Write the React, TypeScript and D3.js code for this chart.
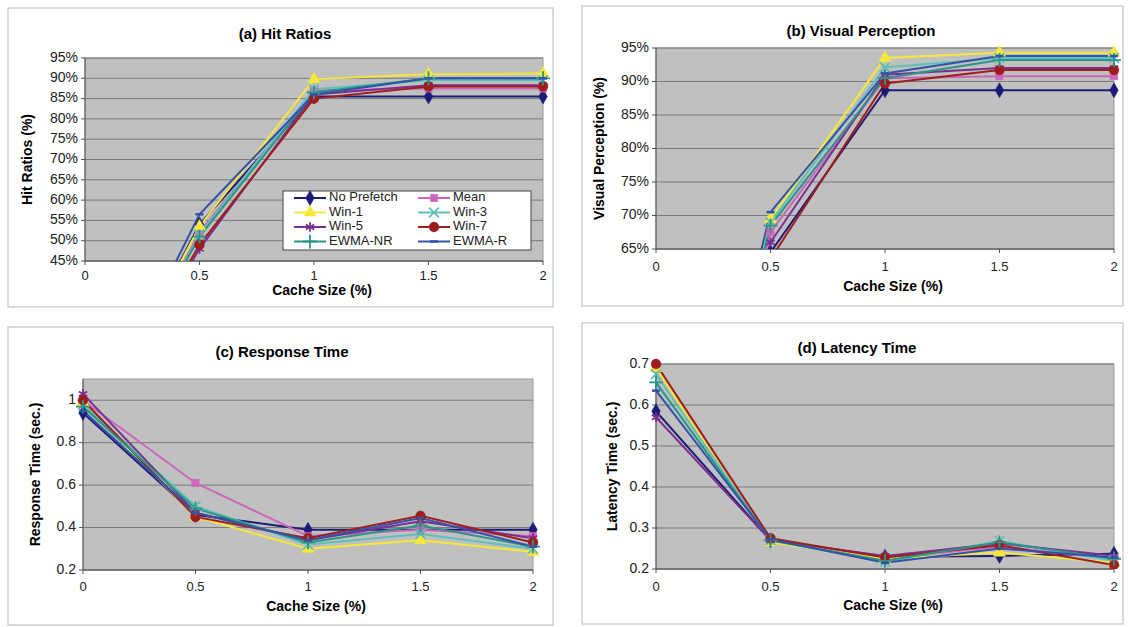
import * as d3 from 'd3';

const CACHE_SIZES = [0, 0.5, 1, 1.5, 2];
const SERIES = ['No Prefetch', 'Mean', 'Win-1', 'Win-3', 'Win-5', 'Win-7', 'EWMA-NR', 'EWMA-R'];
const COLORS = ['#1c1c78', '#cc66bb', '#f5e83a', '#5fc0b8', '#7b2f8e', '#9e1e1e', '#2b9588', '#3352a8'];
const MARKERS = ['diamond', 'square', 'triangle', 'times', 'asterisk', 'circle', 'plus', 'dash'];

// (a) hit ratios, % — one row per series, in SERIES order
const HIT_RATIOS = [
  [0, 54, 85.5, 85.5, 85.5],
  [0, 52, 87, 87.5, 87.5],
  [0, 53.5, 89.8, 91, 91.2],
  [0, 51.5, 87.3, 89.5, 89.5],
  [0, 48, 86, 88.3, 88.3],
  [0, 49, 85, 88, 88],
  [0, 51, 86.5, 90, 90],
  [0, 56.5, 86, 90, 90],
];
// (b) visual perception, %
const VISUAL_PERCEPTION = [
  [0, 64.5, 88.7, 88.7, 88.7],
  [0, 67.5, 90.5, 90.8, 90.8],
  [0, 69.5, 93.5, 94.3, 94.3],
  [0, 69, 92.1, 93.5, 93.5],
  [0, 66, 91, 92, 92],
  [0, 63.5, 89.7, 91.7, 91.7],
  [0, 68.5, 90.5, 93.2, 93.2],
  [0, 70.5, 91.2, 93.8, 93.8],
];
// (c) response time, sec.
const RESPONSE_TIME = [
  [0.94, 0.46, 0.39, 0.39, 0.39],
  [1.0, 0.61, 0.36, 0.39, 0.36],
  [0.99, 0.45, 0.3, 0.34, 0.285],
  [0.98, 0.5, 0.32, 0.37, 0.3],
  [1.03, 0.47, 0.34, 0.43, 0.35],
  [1.0, 0.45, 0.35, 0.455, 0.33],
  [0.97, 0.49, 0.33, 0.41, 0.31],
  [0.95, 0.47, 0.34, 0.445, 0.31],
];
// (d) latency time, sec.
const LATENCY_TIME = [
  [0.585, 0.27, 0.23, 0.232, 0.237],
  [0.69, 0.27, 0.225, 0.255, 0.225],
  [0.69, 0.265, 0.225, 0.24, 0.215],
  [0.675, 0.27, 0.218, 0.268, 0.22],
  [0.57, 0.27, 0.232, 0.262, 0.232],
  [0.7, 0.275, 0.228, 0.258, 0.21],
  [0.655, 0.27, 0.22, 0.265, 0.225],
  [0.635, 0.272, 0.215, 0.25, 0.228],
];

const HIT_TICKS = [45, 50, 55, 60, 65, 70, 75, 80, 85, 90, 95];
const VP_TICKS = [65, 70, 75, 80, 85, 90, 95];
const RT_TICKS = [0.2, 0.4, 0.6, 0.8, 1];
const LT_TICKS = [0.2, 0.3, 0.4, 0.5, 0.6, 0.7];

const FONT = '"Liberation Sans", Arial, sans-serif';

function Marker({ type, cx, cy, color }: { type: string; cx: number; cy: number; color: string }) {
  const t = `translate(${cx},${cy})`;
  if (type === 'dash') return <line x1={cx - 4} x2={cx + 4} y1={cy} y2={cy} stroke={color} strokeWidth={2.5} />;
  const fills: Record<string, any> = { diamond: d3.symbolDiamond, square: d3.symbolSquare, triangle: d3.symbolTriangle, circle: d3.symbolCircle };
  const strokes: Record<string, any> = { times: d3.symbolTimes, asterisk: d3.symbolAsterisk, plus: d3.symbolPlus };
  if (fills[type]) {
    const size = type === 'circle' ? 75 : type === 'square' ? 55 : 65;
    return <path transform={t} d={d3.symbol(fills[type], size)() || ''} fill={color} stroke={color} strokeWidth={0.5} />;
  }
  return <path transform={t} d={d3.symbol(strokes[type], 65)() || ''} fill="none" stroke={color} strokeWidth={1.8} />;
}

function Panel({ id, box, plot, yDomain, yTicks, yFormat, title, titleX, yLabel, yLabelX, data, legend, yTickSize }: any) {
  const x = d3.scaleLinear().domain([0, 2]).range([plot.x0, plot.x1]);
  const y = d3.scaleLinear().domain(yDomain).range([plot.y1, plot.y0]);
  const line = d3.line<number>().x((_, i) => x(CACHE_SIZES[i])).y(d => y(d));
  const pad = 5;
  return (
    <g fontFamily={FONT}>
      <rect x={box.x0} y={box.y0} width={box.x1 - box.x0} height={box.y1 - box.y0} fill="#fff" stroke="#cfcfcf" strokeWidth={1.5} />
      <defs>
        <clipPath id={`${id}-lines`}><rect x={plot.x0} y={plot.y0} width={plot.x1 - plot.x0} height={plot.y1 - plot.y0} /></clipPath>
        <clipPath id={`${id}-marks`}><rect x={plot.x0 - pad - 4} y={plot.y0 - pad - 4} width={plot.x1 - plot.x0 + 2 * pad + 8} height={plot.y1 - plot.y0 + pad + 4} /></clipPath>
      </defs>
      <text x={titleX} y={plot.titleY} textAnchor="middle" fontSize={15} fontWeight="bold" dominantBaseline="middle">{title}</text>
      <rect x={plot.x0} y={plot.y0} width={plot.x1 - plot.x0} height={plot.y1 - plot.y0} fill="#c0c0c0" stroke="#9a9a9a" />
      {yTicks.map((v: number) => (
        <g key={v}>
          <line x1={plot.x0} x2={plot.x1} y1={y(v)} y2={y(v)} stroke="#7a7a7a" strokeWidth={1} />
          <line x1={plot.x0 - 4} x2={plot.x0} y1={y(v)} y2={y(v)} stroke="#555" />
          <text x={plot.x0 - 7} y={y(v)} textAnchor="end" dominantBaseline="middle" fontSize={yTickSize} fill="#222">{yFormat(v)}</text>
        </g>
      ))}
      <line x1={plot.x0} x2={plot.x1} y1={plot.y1} y2={plot.y1} stroke="#555" />
      <line x1={plot.x0} x2={plot.x0} y1={plot.y0} y2={plot.y1} stroke="#555" />
      {CACHE_SIZES.map(v => (
        <g key={v}>
          <line x1={x(v)} x2={x(v)} y1={plot.y1} y2={plot.y1 + 4} stroke="#555" />
          <text x={x(v)} y={plot.tickY} textAnchor="middle" dominantBaseline="middle" fontSize={13} fill="#222">{String(v)}</text>
        </g>
      ))}
      <text x={(plot.x0 + plot.x1) / 2 + 8} y={plot.xTitleY} textAnchor="middle" dominantBaseline="middle" fontSize={14} fontWeight="bold">Cache Size (%)</text>
      <text transform={`translate(${yLabelX},${(plot.y0 + plot.y1) / 2}) rotate(-90)`} textAnchor="middle" dominantBaseline="middle" fontSize={14} fontWeight="bold">{yLabel}</text>
      <g clipPath={`url(#${id}-lines)`}>
        {data.map((row: number[], i: number) => (
          <path key={SERIES[i]} d={line(row) || ''} fill="none" stroke={COLORS[i]} strokeWidth={2} />
        ))}
      </g>
      <g clipPath={`url(#${id}-marks)`}>
        {data.map((row: number[], i: number) =>
          row.map((v, j) => <Marker key={`${i}-${j}`} type={MARKERS[i]} cx={x(CACHE_SIZES[j])} cy={y(v)} color={COLORS[i]} />)
        )}
      </g>
      {legend && (
        <g>
          <rect x={legend.x0} y={legend.y0} width={legend.x1 - legend.x0} height={legend.y1 - legend.y0} fill="#fff" stroke="#444" />
          {SERIES.map((s, i) => {
            const col = i % 2, row = Math.floor(i / 2);
            const lx = legend.cols[col];
            const ly = legend.y0 + 7 + row * 14.5;
            return (
              <g key={s}>
                <line x1={lx} x2={lx + 32} y1={ly} y2={ly} stroke={COLORS[i]} strokeWidth={2} />
                <Marker type={MARKERS[i]} cx={lx + 16} cy={ly} color={COLORS[i]} />
                <text x={lx + 35} y={ly} dominantBaseline="middle" fontSize={13} fill="#222">{s}</text>
              </g>
            );
          })}
        </g>
      )}
    </g>
  );
}

const pct = (v: number) => `${v}%`;
const num = (v: number) => String(v);

export default function App() {
  return (
    <svg width={1128} height={627} style={{ position: 'absolute', left: 0, top: 0, background: '#fff' }}>
      <Panel id="a" title="(a) Hit Ratios" titleX={285} yLabel="Hit Ratios (%)" yLabelX={28} yTickSize={14}
        box={{ x0: 8, y0: 8, x1: 553, y1: 307 }}
        plot={{ x0: 85, x1: 543, y0: 58, y1: 261, titleY: 35, tickY: 277, xTitleY: 291 }}
        yDomain={[45, 95]} yTicks={HIT_TICKS} yFormat={pct} data={HIT_RATIOS}
        legend={{ x0: 283, x1: 531, y0: 191, y1: 250, cols: [294, 418] }} />
      <Panel id="b" title="(b) Visual Perception" titleX={861} yLabel="Visual Perception (%)" yLabelX={600} yTickSize={14}
        box={{ x0: 582, y0: 6, x1: 1123, y1: 306 }}
        plot={{ x0: 656, x1: 1114, y0: 48, y1: 249, titleY: 32, tickY: 268, xTitleY: 287 }}
        yDomain={[65, 95]} yTicks={VP_TICKS} yFormat={pct} data={VISUAL_PERCEPTION} />
      <Panel id="c" title="(c) Response Time" titleX={282} yLabel="Response Time (sec.)" yLabelX={36} yTickSize={14}
        box={{ x0: 8, y0: 327, x1: 553, y1: 625 }}
        plot={{ x0: 83, x1: 533, y0: 379, y1: 570, titleY: 353, tickY: 588, xTitleY: 607 }}
        yDomain={[0.2, 1.1]} yTicks={RT_TICKS} yFormat={num} data={RESPONSE_TIME} />
      <Panel id="d" title="(d) Latency Time" titleX={857} yLabel="Latency Time (sec.)" yLabelX={613} yTickSize={14}
        box={{ x0: 582, y0: 323, x1: 1123, y1: 624 }}
        plot={{ x0: 656, x1: 1114, y0: 364, y1: 569, titleY: 349, tickY: 588, xTitleY: 606 }}
        yDomain={[0.2, 0.7]} yTicks={LT_TICKS} yFormat={num} data={LATENCY_TIME} />
    </svg>
  );
}
